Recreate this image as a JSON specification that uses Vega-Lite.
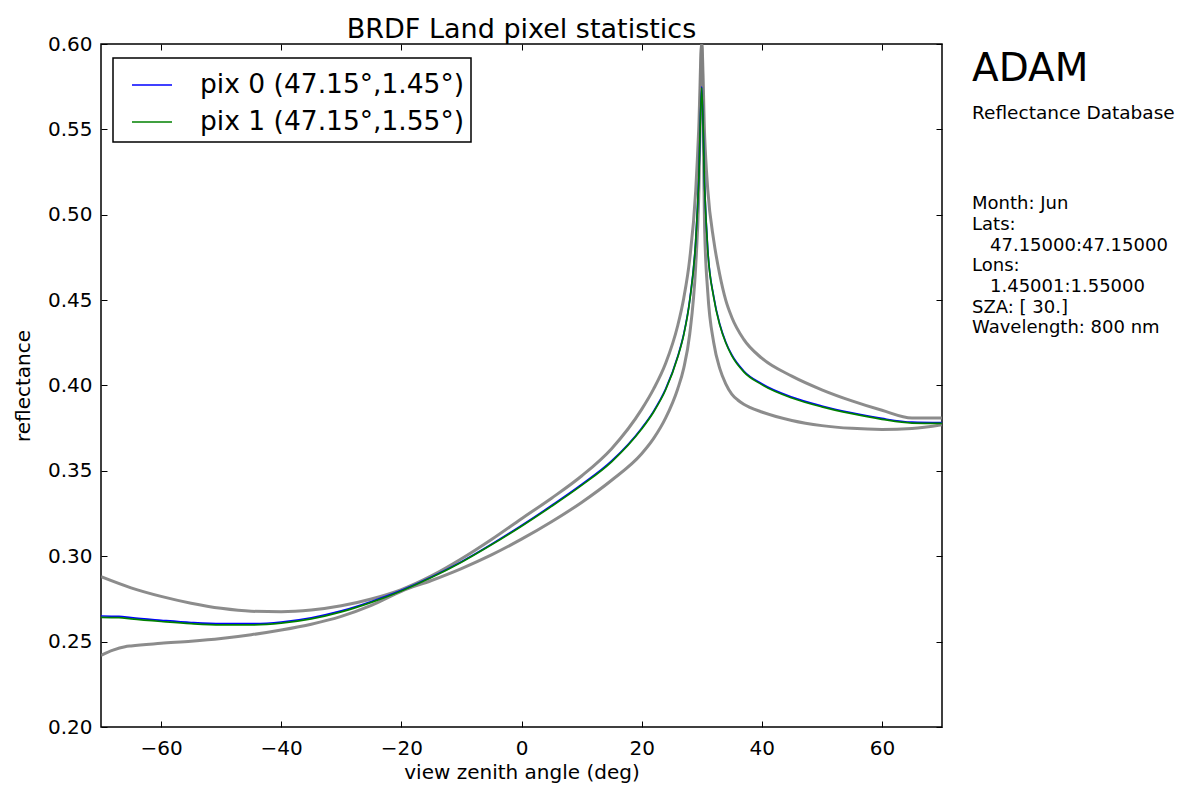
{
  "$schema": "https://vega.github.io/schema/vega-lite/v6.json",
  "width": 841,
  "height": 683,
  "autosize": {"type": "none"},
  "padding": {"left": 101, "top": 44, "right": 236, "bottom": 63},
  "background": "white",
  "title": {
    "text": "BRDF Land pixel statistics",
    "font": "DejaVu Sans",
    "fontSize": 27,
    "fontWeight": "normal",
    "color": "#000000",
    "offset": -10
  },
  "config": {
    "font": "DejaVu Sans",
    "view": {"stroke": "#000000", "strokeWidth": 1.5},
    "axis": {
      "domain": false,
      "grid": false,
      "tickColor": "#000000",
      "tickWidth": 1,
      "tickSize": -6,
      "labelFont": "DejaVu Sans",
      "labelFontSize": 20,
      "labelColor": "#000000",
      "titleFont": "DejaVu Sans",
      "titleFontSize": 20,
      "titleFontWeight": "normal",
      "titleColor": "#000000"
    },
    "legend": {
      "orient": "none",
      "legendX": 12,
      "legendY": 14,
      "strokeColor": "#000000",
      "strokeWidth": 1.5,
      "fillColor": "#ffffff",
      "cornerRadius": 0,
      "padding": 6,
      "symbolOffset": 12,
      "symbolType": "stroke",
      "symbolSize": 1600,
      "symbolStrokeWidth": 1.7,
      "labelFont": "DejaVu Sans",
      "labelFontSize": 26.5,
      "labelColor": "#000000",
      "labelOffset": 27,
      "rowPadding": 2,
      "labelLimit": 0
    }
  },
  "datasets": {
    "bounds": [
      {"series": "hi", "vza": -70, "refl": 0.288},
      {"series": "hi", "vza": -65, "refl": 0.2815},
      {"series": "hi", "vza": -60, "refl": 0.2765},
      {"series": "hi", "vza": -55, "refl": 0.2725},
      {"series": "hi", "vza": -50, "refl": 0.2695},
      {"series": "hi", "vza": -45, "refl": 0.2678},
      {"series": "hi", "vza": -40, "refl": 0.2675},
      {"series": "hi", "vza": -35, "refl": 0.2685},
      {"series": "hi", "vza": -30, "refl": 0.271},
      {"series": "hi", "vza": -25, "refl": 0.275},
      {"series": "hi", "vza": -20, "refl": 0.2805},
      {"series": "hi", "vza": -15, "refl": 0.2885},
      {"series": "hi", "vza": -10, "refl": 0.2985},
      {"series": "hi", "vza": -5, "refl": 0.3098},
      {"series": "hi", "vza": 0, "refl": 0.322},
      {"series": "hi", "vza": 5, "refl": 0.334},
      {"series": "hi", "vza": 10, "refl": 0.347},
      {"series": "hi", "vza": 15, "refl": 0.363},
      {"series": "hi", "vza": 20, "refl": 0.386},
      {"series": "hi", "vza": 22, "refl": 0.398},
      {"series": "hi", "vza": 24, "refl": 0.413},
      {"series": "hi", "vza": 26, "refl": 0.435},
      {"series": "hi", "vza": 27, "refl": 0.451},
      {"series": "hi", "vza": 28, "refl": 0.474},
      {"series": "hi", "vza": 29, "refl": 0.514},
      {"series": "hi", "vza": 29.5, "refl": 0.55},
      {"series": "hi", "vza": 30, "refl": 0.6},
      {"series": "hi", "vza": 30.5, "refl": 0.545},
      {"series": "hi", "vza": 31, "refl": 0.515},
      {"series": "hi", "vza": 32, "refl": 0.485},
      {"series": "hi", "vza": 33, "refl": 0.465},
      {"series": "hi", "vza": 34, "refl": 0.45},
      {"series": "hi", "vza": 35, "refl": 0.44},
      {"series": "hi", "vza": 37, "refl": 0.427},
      {"series": "hi", "vza": 40, "refl": 0.416},
      {"series": "hi", "vza": 45, "refl": 0.4055},
      {"series": "hi", "vza": 50, "refl": 0.3975},
      {"series": "hi", "vza": 55, "refl": 0.391},
      {"series": "hi", "vza": 60, "refl": 0.3855},
      {"series": "hi", "vza": 65, "refl": 0.381},
      {"series": "hi", "vza": 70, "refl": 0.381},
      {"series": "lo", "vza": -70, "refl": 0.242},
      {"series": "lo", "vza": -68, "refl": 0.245},
      {"series": "lo", "vza": -66, "refl": 0.247},
      {"series": "lo", "vza": -65, "refl": 0.2475},
      {"series": "lo", "vza": -60, "refl": 0.249},
      {"series": "lo", "vza": -55, "refl": 0.2502},
      {"series": "lo", "vza": -50, "refl": 0.2518},
      {"series": "lo", "vza": -45, "refl": 0.254},
      {"series": "lo", "vza": -40, "refl": 0.2568},
      {"series": "lo", "vza": -35, "refl": 0.2602},
      {"series": "lo", "vza": -30, "refl": 0.2648},
      {"series": "lo", "vza": -25, "refl": 0.2712},
      {"series": "lo", "vza": -20, "refl": 0.2795},
      {"series": "lo", "vza": -15, "refl": 0.2858},
      {"series": "lo", "vza": -10, "refl": 0.2928},
      {"series": "lo", "vza": -5, "refl": 0.3008},
      {"series": "lo", "vza": 0, "refl": 0.31},
      {"series": "lo", "vza": 5, "refl": 0.3202},
      {"series": "lo", "vza": 10, "refl": 0.3315},
      {"series": "lo", "vza": 15, "refl": 0.3445},
      {"series": "lo", "vza": 20, "refl": 0.36},
      {"series": "lo", "vza": 22, "refl": 0.369},
      {"series": "lo", "vza": 24, "refl": 0.381},
      {"series": "lo", "vza": 26, "refl": 0.398},
      {"series": "lo", "vza": 27, "refl": 0.41},
      {"series": "lo", "vza": 28, "refl": 0.43},
      {"series": "lo", "vza": 29, "refl": 0.47},
      {"series": "lo", "vza": 29.5, "refl": 0.51},
      {"series": "lo", "vza": 30, "refl": 0.6},
      {"series": "lo", "vza": 30.5, "refl": 0.49},
      {"series": "lo", "vza": 31, "refl": 0.455},
      {"series": "lo", "vza": 32, "refl": 0.425},
      {"series": "lo", "vza": 33, "refl": 0.41},
      {"series": "lo", "vza": 34, "refl": 0.401},
      {"series": "lo", "vza": 35, "refl": 0.395},
      {"series": "lo", "vza": 36, "refl": 0.3915},
      {"series": "lo", "vza": 37, "refl": 0.389},
      {"series": "lo", "vza": 38, "refl": 0.3872},
      {"series": "lo", "vza": 40, "refl": 0.3845},
      {"series": "lo", "vza": 45, "refl": 0.3795},
      {"series": "lo", "vza": 50, "refl": 0.3765},
      {"series": "lo", "vza": 55, "refl": 0.3749},
      {"series": "lo", "vza": 60, "refl": 0.3743},
      {"series": "lo", "vza": 65, "refl": 0.3748},
      {"series": "lo", "vza": 70, "refl": 0.377}
    ],
    "pixels": [
      {"series": "pix 0 (47.15°,1.45°)", "vza": -70, "refl": 0.265},
      {"series": "pix 0 (47.15°,1.45°)", "vza": -67, "refl": 0.2648},
      {"series": "pix 0 (47.15°,1.45°)", "vza": -65, "refl": 0.264},
      {"series": "pix 0 (47.15°,1.45°)", "vza": -60, "refl": 0.2625},
      {"series": "pix 0 (47.15°,1.45°)", "vza": -55, "refl": 0.2612},
      {"series": "pix 0 (47.15°,1.45°)", "vza": -50, "refl": 0.2605},
      {"series": "pix 0 (47.15°,1.45°)", "vza": -45, "refl": 0.2605},
      {"series": "pix 0 (47.15°,1.45°)", "vza": -40, "refl": 0.2615},
      {"series": "pix 0 (47.15°,1.45°)", "vza": -35, "refl": 0.264},
      {"series": "pix 0 (47.15°,1.45°)", "vza": -30, "refl": 0.268},
      {"series": "pix 0 (47.15°,1.45°)", "vza": -25, "refl": 0.2735},
      {"series": "pix 0 (47.15°,1.45°)", "vza": -20, "refl": 0.28},
      {"series": "pix 0 (47.15°,1.45°)", "vza": -15, "refl": 0.2878},
      {"series": "pix 0 (47.15°,1.45°)", "vza": -10, "refl": 0.2968},
      {"series": "pix 0 (47.15°,1.45°)", "vza": -5, "refl": 0.307},
      {"series": "pix 0 (47.15°,1.45°)", "vza": 0, "refl": 0.318},
      {"series": "pix 0 (47.15°,1.45°)", "vza": 5, "refl": 0.3297},
      {"series": "pix 0 (47.15°,1.45°)", "vza": 10, "refl": 0.342},
      {"series": "pix 0 (47.15°,1.45°)", "vza": 15, "refl": 0.3558},
      {"series": "pix 0 (47.15°,1.45°)", "vza": 20, "refl": 0.375},
      {"series": "pix 0 (47.15°,1.45°)", "vza": 22, "refl": 0.385},
      {"series": "pix 0 (47.15°,1.45°)", "vza": 24, "refl": 0.398},
      {"series": "pix 0 (47.15°,1.45°)", "vza": 26, "refl": 0.417},
      {"series": "pix 0 (47.15°,1.45°)", "vza": 27, "refl": 0.43},
      {"series": "pix 0 (47.15°,1.45°)", "vza": 28, "refl": 0.45},
      {"series": "pix 0 (47.15°,1.45°)", "vza": 29, "refl": 0.485},
      {"series": "pix 0 (47.15°,1.45°)", "vza": 29.5, "refl": 0.52},
      {"series": "pix 0 (47.15°,1.45°)", "vza": 30, "refl": 0.575},
      {"series": "pix 0 (47.15°,1.45°)", "vza": 30.5, "refl": 0.515},
      {"series": "pix 0 (47.15°,1.45°)", "vza": 31, "refl": 0.48},
      {"series": "pix 0 (47.15°,1.45°)", "vza": 32, "refl": 0.452},
      {"series": "pix 0 (47.15°,1.45°)", "vza": 33, "refl": 0.436},
      {"series": "pix 0 (47.15°,1.45°)", "vza": 34, "refl": 0.4255},
      {"series": "pix 0 (47.15°,1.45°)", "vza": 35, "refl": 0.418},
      {"series": "pix 0 (47.15°,1.45°)", "vza": 37, "refl": 0.4085},
      {"series": "pix 0 (47.15°,1.45°)", "vza": 40, "refl": 0.401},
      {"series": "pix 0 (47.15°,1.45°)", "vza": 45, "refl": 0.3932},
      {"series": "pix 0 (47.15°,1.45°)", "vza": 50, "refl": 0.388},
      {"series": "pix 0 (47.15°,1.45°)", "vza": 55, "refl": 0.384},
      {"series": "pix 0 (47.15°,1.45°)", "vza": 60, "refl": 0.3807},
      {"series": "pix 0 (47.15°,1.45°)", "vza": 65, "refl": 0.3785},
      {"series": "pix 0 (47.15°,1.45°)", "vza": 70, "refl": 0.3782},
      {"series": "pix 1 (47.15°,1.55°)", "vza": -70, "refl": 0.2642},
      {"series": "pix 1 (47.15°,1.55°)", "vza": -67, "refl": 0.264},
      {"series": "pix 1 (47.15°,1.55°)", "vza": -65, "refl": 0.2633},
      {"series": "pix 1 (47.15°,1.55°)", "vza": -60, "refl": 0.2618},
      {"series": "pix 1 (47.15°,1.55°)", "vza": -55, "refl": 0.2605},
      {"series": "pix 1 (47.15°,1.55°)", "vza": -50, "refl": 0.2598},
      {"series": "pix 1 (47.15°,1.55°)", "vza": -45, "refl": 0.2598},
      {"series": "pix 1 (47.15°,1.55°)", "vza": -40, "refl": 0.2608},
      {"series": "pix 1 (47.15°,1.55°)", "vza": -35, "refl": 0.2633},
      {"series": "pix 1 (47.15°,1.55°)", "vza": -30, "refl": 0.2674},
      {"series": "pix 1 (47.15°,1.55°)", "vza": -25, "refl": 0.273},
      {"series": "pix 1 (47.15°,1.55°)", "vza": -20, "refl": 0.2797},
      {"series": "pix 1 (47.15°,1.55°)", "vza": -15, "refl": 0.2875},
      {"series": "pix 1 (47.15°,1.55°)", "vza": -10, "refl": 0.2965},
      {"series": "pix 1 (47.15°,1.55°)", "vza": -5, "refl": 0.3067},
      {"series": "pix 1 (47.15°,1.55°)", "vza": 0, "refl": 0.3176},
      {"series": "pix 1 (47.15°,1.55°)", "vza": 5, "refl": 0.3292},
      {"series": "pix 1 (47.15°,1.55°)", "vza": 10, "refl": 0.3415},
      {"series": "pix 1 (47.15°,1.55°)", "vza": 15, "refl": 0.3553},
      {"series": "pix 1 (47.15°,1.55°)", "vza": 20, "refl": 0.3745},
      {"series": "pix 1 (47.15°,1.55°)", "vza": 22, "refl": 0.3845},
      {"series": "pix 1 (47.15°,1.55°)", "vza": 24, "refl": 0.3975},
      {"series": "pix 1 (47.15°,1.55°)", "vza": 26, "refl": 0.4165},
      {"series": "pix 1 (47.15°,1.55°)", "vza": 27, "refl": 0.4295},
      {"series": "pix 1 (47.15°,1.55°)", "vza": 28, "refl": 0.4495},
      {"series": "pix 1 (47.15°,1.55°)", "vza": 29, "refl": 0.4845},
      {"series": "pix 1 (47.15°,1.55°)", "vza": 29.5, "refl": 0.5195},
      {"series": "pix 1 (47.15°,1.55°)", "vza": 30, "refl": 0.5745},
      {"series": "pix 1 (47.15°,1.55°)", "vza": 30.5, "refl": 0.5145},
      {"series": "pix 1 (47.15°,1.55°)", "vza": 31, "refl": 0.4795},
      {"series": "pix 1 (47.15°,1.55°)", "vza": 32, "refl": 0.4515},
      {"series": "pix 1 (47.15°,1.55°)", "vza": 33, "refl": 0.4355},
      {"series": "pix 1 (47.15°,1.55°)", "vza": 34, "refl": 0.425},
      {"series": "pix 1 (47.15°,1.55°)", "vza": 35, "refl": 0.4175},
      {"series": "pix 1 (47.15°,1.55°)", "vza": 37, "refl": 0.408},
      {"series": "pix 1 (47.15°,1.55°)", "vza": 40, "refl": 0.4005},
      {"series": "pix 1 (47.15°,1.55°)", "vza": 45, "refl": 0.3927},
      {"series": "pix 1 (47.15°,1.55°)", "vza": 50, "refl": 0.3875},
      {"series": "pix 1 (47.15°,1.55°)", "vza": 55, "refl": 0.3835},
      {"series": "pix 1 (47.15°,1.55°)", "vza": 60, "refl": 0.3802},
      {"series": "pix 1 (47.15°,1.55°)", "vza": 65, "refl": 0.378},
      {"series": "pix 1 (47.15°,1.55°)", "vza": 70, "refl": 0.3778}
    ]
  },
  "layer": [
    {
      "data": {"name": "bounds"},
      "mark": {"type": "line", "stroke": "#808080", "strokeWidth": 3, "opacity": 0.9, "clip": true, "interpolate": "monotone"},
      "encoding": {
        "x": {
          "field": "vza",
          "type": "quantitative",
          "scale": {"domain": [-70, 70], "nice": false, "zero": false},
          "axis": {
            "orient": "bottom",
            "values": [-60, -40, -20, 0, 20, 40, 60],
            "format": "d",
            "labelPadding": 17,
            "labelExpr": "replace(datum.label, '-', '\u2212')",
            "title": "view zenith angle (deg)",
            "titlePadding": 4
          }
        },
        "y": {
          "field": "refl",
          "type": "quantitative",
          "scale": {"domain": [0.2, 0.6], "nice": false, "zero": false},
          "axis": {
            "orient": "left",
            "values": [0.2, 0.25, 0.3, 0.35, 0.4, 0.45, 0.5, 0.55, 0.6],
            "format": ".2f",
            "labelPadding": 15,
            "title": "reflectance",
            "titlePadding": 14
          }
        },
        "detail": {"field": "series", "type": "nominal"}
      }
    },
    {
      "data": {"name": "bounds"},
      "mark": {"type": "line", "opacity": 0},
      "encoding": {
        "x": {
          "field": "vza",
          "type": "quantitative",
          "axis": {"orient": "top", "values": [-60, -40, -20, 0, 20, 40, 60], "labels": false, "title": null}
        },
        "y": {
          "field": "refl",
          "type": "quantitative",
          "axis": {"orient": "right", "values": [0.2, 0.25, 0.3, 0.35, 0.4, 0.45, 0.5, 0.55, 0.6], "labels": false, "title": null}
        },
        "detail": {"field": "series", "type": "nominal"}
      }
    },
    {
      "data": {"name": "pixels"},
      "mark": {"type": "line", "strokeWidth": 1.7, "clip": true, "interpolate": "monotone"},
      "encoding": {
        "x": {"field": "vza", "type": "quantitative", "axis": null},
        "y": {"field": "refl", "type": "quantitative", "axis": null},
        "color": {
          "field": "series",
          "type": "nominal",
          "scale": {"domain": ["pix 0 (47.15°,1.45°)", "pix 1 (47.15°,1.55°)"], "range": ["#0000ff", "#008000"]},
          "legend": {"title": null}
        }
      }
    },
    {
      "data": {"values": [{"label": "ADAM"}]},
      "mark": {"type": "text", "align": "left", "baseline": "middle", "fontSize": 39, "font": "DejaVu Sans", "color": "#000000"},
      "encoding": {
        "x": {"datum": 75.0, "type": "quantitative", "axis": null},
        "y": {"datum": 0.5855, "type": "quantitative", "axis": null},
        "text": {"field": "label"}
      }
    },
    {
      "data": {"values": [{"label": "Reflectance Database"}]},
      "mark": {"type": "text", "align": "left", "baseline": "middle", "fontSize": 18.5, "font": "DejaVu Sans", "color": "#000000"},
      "encoding": {
        "x": {"datum": 75.0, "type": "quantitative", "axis": null},
        "y": {"datum": 0.5596, "type": "quantitative", "axis": null},
        "text": {"field": "label"}
      }
    },
    {
      "data": {"values": [{"label": ["Month: Jun", "Lats:", "\u200b\u2002\u200247.15000:47.15000", "Lons:", "\u200b\u2002\u20021.45001:1.55000", "SZA: [ 30.]", "Wavelength: 800 nm"]}]},
      "mark": {"type": "text", "align": "left", "baseline": "top", "fontSize": 18, "lineHeight": 20.7, "font": "DejaVu Sans", "color": "#000000"},
      "encoding": {
        "x": {"datum": 75.0, "type": "quantitative", "axis": null},
        "y": {"datum": 0.5115, "type": "quantitative", "axis": null},
        "text": {"field": "label"}
      }
    }
  ],
  "resolve": {"axis": {"x": "independent", "y": "independent"}}
}
